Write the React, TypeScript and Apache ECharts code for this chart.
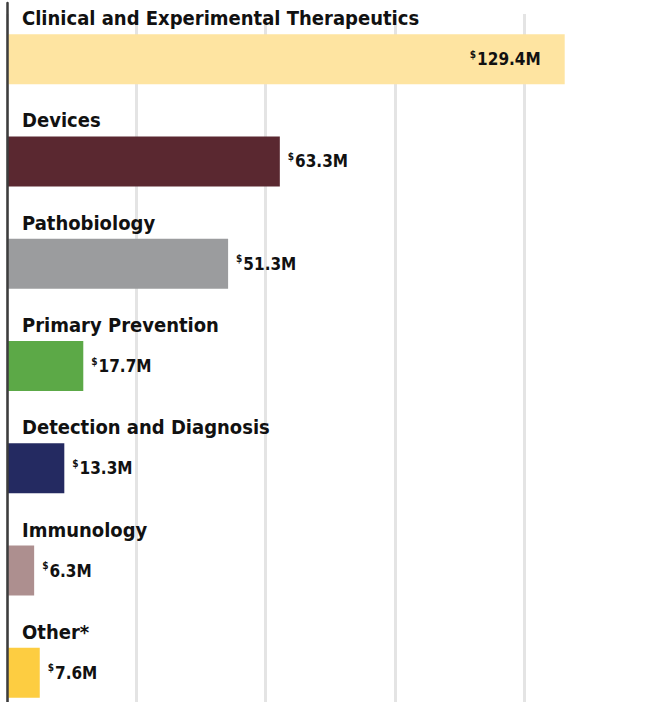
import React, { useEffect, useRef } from "react";
import * as echarts from "echarts";

const categories = [
  "Clinical and Experimental Therapeutics",
  "Devices",
  "Pathobiology",
  "Primary Prevention",
  "Detection and Diagnosis",
  "Immunology",
  "Other*",
];
const values = [129.4, 63.3, 51.3, 17.7, 13.3, 6.3, 7.6];
const colors = ["#fee4a1", "#5a2830", "#9b9c9e", "#5ca947", "#242a61", "#ad8f8f", "#fdcd41"];

const FONT = "'Liberation Sans Narrow', 'DejaVu Sans Condensed', 'Roboto', sans-serif";

export default function App() {
  const ref = useRef<HTMLDivElement>(null);
  useEffect(() => {
    if (!ref.current) return;
    const chart = echarts.init(ref.current, null, { renderer: "svg" });
    const valueAxisBase = {
      type: "value" as const,
      min: 0,
      max: 150,
      interval: 30,
      axisLabel: { show: false },
      axisTick: { show: false },
      axisLine: { show: false },
    };
    chart.setOption({
      animation: false,
      textStyle: { fontFamily: FONT },
      grid: [
        { left: 7, top: 8, width: 646.5, height: 716 },
        { left: 7, top: 14, width: 646.5, bottom: 0 },
        { left: 7, top: 3, width: 646.5, bottom: 0 },
      ],
      xAxis: [
        { ...valueAxisBase, gridIndex: 0, splitLine: { show: false } },
        { ...valueAxisBase, gridIndex: 1, splitLine: { show: true, lineStyle: { color: "#e4e4e4", width: 3 } } },
        { ...valueAxisBase, gridIndex: 2, splitLine: { show: false } },
      ],
      yAxis: [
        {
          gridIndex: 0,
          type: "category",
          data: categories,
          inverse: true,
          axisLine: { show: false },
          axisTick: { show: false },
          axisLabel: { show: false },
        },
        { gridIndex: 1, type: "value", show: false },
        {
          gridIndex: 2,
          type: "value",
          z: 5,
          axisLine: { show: true, onZero: false, lineStyle: { color: "#3d3d3d", width: 2.5 } },
          axisTick: { show: false },
          axisLabel: { show: false },
          splitLine: { show: false },
        },
      ],
      series: [
        {
          type: "bar",
          xAxisIndex: 0,
          yAxisIndex: 0,
          barWidth: 50,
          data: values.map((v, i) => ({ value: v, itemStyle: { color: colors[i] } })),
          label: {
            show: true,
            position: [15, -16],
            align: "left",
            verticalAlign: "middle",
            formatter: "{b}",
            fontFamily: FONT,
            fontSize: 20,
            fontWeight: "bold",
            color: "#111",
          },
        },
        {
          type: "bar",
          xAxisIndex: 0,
          yAxisIndex: 0,
          barWidth: 50,
          barGap: "-100%",
          itemStyle: { color: "transparent" },
          silent: true,
          data: values.map((v, i) =>
            i === 0
              ? { value: v, label: { position: "insideRight", distance: 24 } }
              : { value: v }
          ),
          label: {
            show: true,
            position: "right",
            distance: 8,
            formatter: (p: any) => `{s|$}{v|${p.value}M}`,
            rich: {
              s: { fontFamily: FONT, fontSize: 10, fontWeight: "bold", color: "#111", verticalAlign: "top", lineHeight: 20, padding: [0, 1, 0, 0] },
              v: { fontFamily: FONT, fontSize: 17, fontWeight: "bold", color: "#111", lineHeight: 20 },
            },
          },
        },
      ],
    });
    return () => chart.dispose();
  }, []);
  return (
    <div
      ref={ref}
      style={{ position: "fixed", left: 0, top: 0, width: 660, height: 730, background: "#fff" }}
    />
  );
}
